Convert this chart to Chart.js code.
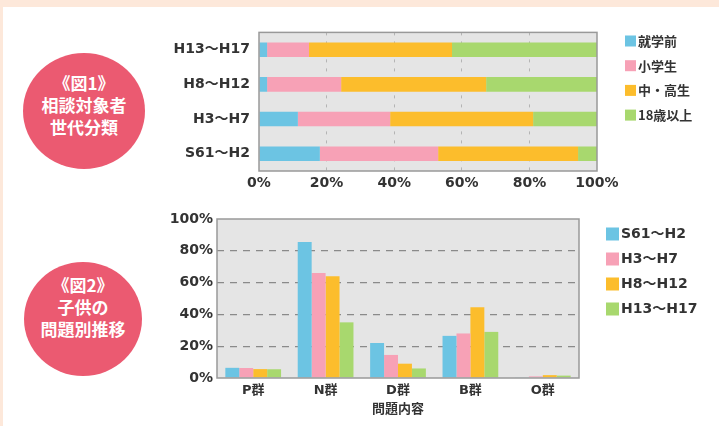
<!DOCTYPE html>
<html>
<head>
<meta charset="utf-8">
<script src="https://cdn.jsdelivr.net/npm/chart.js@4.4.1/dist/chart.umd.min.js"></script>
<style>
    html, body { margin: 0; padding: 0; }
    body {
        width: 719px; height: 426px; position: relative; overflow: hidden;
        background: #fff;
        border-top: 7px solid #fde8da;
        border-left: 3px solid #fde8da;
        box-sizing: border-box;
    }
    canvas { position: absolute; }
    .badge {
        position: absolute; border-radius: 50%; box-sizing: border-box;
        background: #eb5a71; color: #fff;
        font-family: "Noto Sans CJK JP", sans-serif; font-weight: bold;
        font-size: 17px; line-height: 22px; text-align: center;
        display: flex; flex-direction: column; justify-content: center;
    }
</style>
</head>
<body>
<div class="badge" id="badge1" style="left:20px; top:46px; width:122px; height:116px; padding-bottom:12px;">
    <div>《図1》</div><div>相談対象者</div><div>世代分類</div>
</div>
<div class="badge" id="badge2" style="left:21px; top:255px; width:118px; height:114px; padding-bottom:24px;">
    <div>《図2》</div><div>子供の</div><div>問題別推移</div>
</div>
<canvas id="ageChart" width="569" height="185" style="left:147px; top:8px;"></canvas>
<canvas id="problemChart" width="569" height="221" style="left:147px; top:198px;"></canvas>

<script>
// 図1 相談対象者の世代分類 (%)
const periodsTop = ['H13〜H17', 'H8〜H12', 'H3〜H7', 'S61〜H2'];
const ageLabels = ['就学前', '小学生', '中・高生', '18歳以上'];
const preschool = [2.4, 2.4, 11.5, 18.0];
const elementary = [12.4, 21.9, 27.3, 35.0];
const secondary = [42.3, 42.9, 42.3, 41.4];
const adult = [42.9, 32.8, 18.9, 5.6];
const pctTicks = [0, 20, 40, 60, 80, 100];

// 図2 子供の問題別推移 (%)
const groups = ['P群', 'N群', 'D群', 'B群', 'O群'];
const periods = ['S61〜H2', 'H3〜H7', 'H8〜H12', 'H13〜H17'];
const s61h2 = [6.4, 85.5, 22.0, 26.5, 0.3];
const h3h7 = [6.3, 66.0, 14.5, 28.0, 1.0];
const h8h12 = [5.6, 64.0, 9.0, 44.5, 1.8];
const h13h17 = [5.5, 35.0, 6.0, 29.0, 1.5];

const colors = ['#6cc4e3', '#f7a1b6', '#fcbd2c', '#a8d86e'];
const FONT = '"DejaVu Sans", "Noto Sans CJK JP", sans-serif';
const TEXT = '#333';

// 灰色の背景と枠
const plotFrame = {
    id: 'plotFrame',
    beforeDraw(chart) {
        const { ctx, chartArea: a } = chart;
        ctx.save();
        ctx.fillStyle = '#e5e5e5';
        ctx.fillRect(a.left, a.top, a.width, a.height);
        ctx.restore();
    },
    afterDraw(chart) {
        const { ctx, chartArea: a } = chart;
        ctx.save();
        ctx.strokeStyle = '#999';
        ctx.lineWidth = 1.5;
        ctx.strokeRect(a.left, a.top, a.width, a.height);
        ctx.restore();
    }
};

// 四角い凡例
const boxLegend = {
    id: 'boxLegend',
    afterDraw(chart, args, opts) {
        const ctx = chart.ctx;
        ctx.save();
        ctx.font = opts.font;
        ctx.textBaseline = 'middle';
        chart.data.datasets.forEach((ds, i) => {
            const y = opts.y + i * opts.gap;
            ctx.fillStyle = ds.backgroundColor;
            ctx.fillRect(opts.x, y - opts.box / 2, opts.box, opts.box);
            ctx.fillStyle = TEXT;
            ctx.fillText(ds.label, opts.x + opts.box + 2, y);
        });
        ctx.restore();
    }
};

function gridColor(light) {
    return c => (c.tick.value === 0 || c.tick.value === 100) ? 'rgba(0,0,0,0)' : light;
}

new Chart(document.getElementById('ageChart'), {
    type: 'bar',
    data: {
        labels: periodsTop,
        datasets: [preschool, elementary, secondary, adult].map((d, i) => ({
            label: ageLabels[i],
            data: d,
            backgroundColor: colors[i],
            categoryPercentage: 0.42,
            barPercentage: 1
        }))
    },
    options: {
        indexAxis: 'y',
        responsive: false,
        animation: false,
        layout: { padding: { top: 12, right: 122, left: 0, bottom: 0 } },
        scales: {
            x: {
                stacked: true, min: 0, max: 100,
                afterBuildTicks: s => { s.ticks = pctTicks.map(v => ({ value: v })); },
                afterFit: s => { s.height = 29; },
                grid: { color: gridColor('#b4b4b4'), drawTicks: false, lineWidth: 1 },
                border: { display: false, dash: [3, 6] },
                ticks: { padding: 4, color: TEXT, font: { family: FONT, size: 14, weight: 'bold' }, callback: v => v + '%' }
            },
            y: {
                stacked: true,
                afterFit: s => { s.width = 109; },
                grid: { display: false, drawTicks: false },
                border: { display: false },
                ticks: { padding: 9, color: TEXT, font: { family: FONT, size: 14, weight: 'bold' } }
            }
        },
        plugins: {
            legend: { display: false },
            tooltip: { enabled: false },
            boxLegend: { x: 475, y: 26, gap: 24.7, box: 11, font: 'bold 13px "Noto Sans CJK JP", sans-serif' }
        }
    },
    plugins: [plotFrame, boxLegend]
});

new Chart(document.getElementById('problemChart'), {
    type: 'bar',
    data: {
        labels: groups,
        datasets: [s61h2, h3h7, h8h12, h13h17].map((d, i) => ({
            label: periods[i],
            data: d,
            backgroundColor: colors[i],
            categoryPercentage: 0.77,
            barPercentage: 1
        }))
    },
    options: {
        responsive: false,
        animation: false,
        layout: { padding: { top: 14, right: 140, left: 0, bottom: 0 } },
        scales: {
            x: {
                afterFit: s => { s.height = 48; },
                grid: { display: false, drawTicks: false },
                border: { display: false },
                ticks: { padding: 5, color: TEXT, font: { family: FONT, size: 13, weight: 'bold' } },
                title: {
                    display: true, text: '問題内容', color: TEXT, padding: { top: 2, bottom: 10 },
                    font: { family: '"Noto Sans CJK JP", sans-serif', size: 13, weight: 'bold' }
                }
            },
            y: {
                min: 0, max: 100,
                afterBuildTicks: s => { s.ticks = pctTicks.map(v => ({ value: v })); },
                afterFit: s => { s.width = 67; },
                grid: { color: gridColor('#8a8a8a'), drawTicks: false, lineWidth: 1.2 },
                border: { display: false, dash: [7, 6] },
                ticks: { padding: 4, color: TEXT, font: { family: FONT, size: 14, weight: 'bold' }, callback: v => v + '%' }
            }
        },
        plugins: {
            legend: { display: false },
            tooltip: { enabled: false },
            boxLegend: { x: 456, y: 29, gap: 25, box: 13, font: 'bold 14px ' + FONT }
        }
    },
    plugins: [plotFrame, boxLegend]
});
</script>
</body>
</html>
